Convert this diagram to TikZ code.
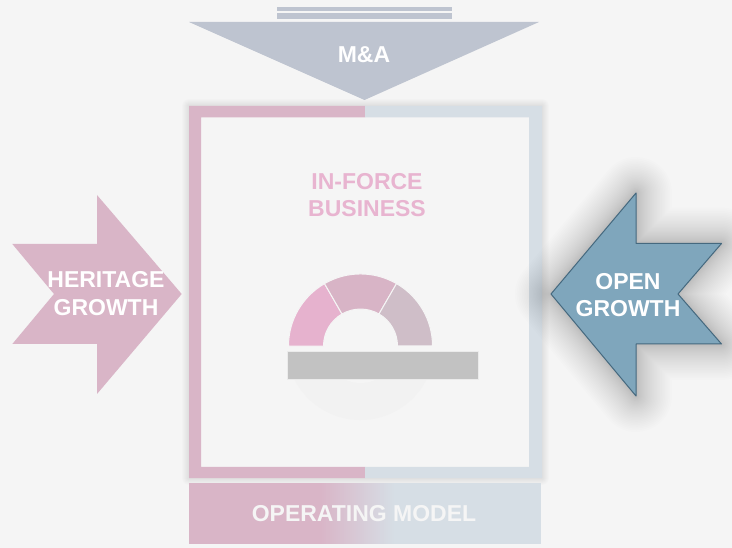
\documentclass[tikz,border=0pt]{standalone}
\usepackage{fontspec}
\setmainfont{Liberation Sans}
\definecolor{fondo}{HTML}{F5F5F5}
\definecolor{rosa}{HTML}{D9B5C7}
\definecolor{azul}{HTML}{D6DEE5}
\definecolor{gris}{HTML}{BEC4D0}
\definecolor{abierto}{HTML}{7FA6BC}
\definecolor{borde}{HTML}{45697F}
\definecolor{rosafuerte}{HTML}{E6B2CE}
\definecolor{rosamedio}{HTML}{D8B4C6}
\definecolor{rosapalido}{HTML}{CFBEC8}
\definecolor{rosatexto}{HTML}{E8B4D0}
\definecolor{base}{HTML}{C2C2C2}
\definecolor{disco}{HTML}{F2F2F2}
\begin{document}
\begin{tikzpicture}[x=1pt,y=-1pt,
		label text/.style={font=\fontsize{23}{27.5}\selectfont\bfseries,text=white,inner sep=0pt},
		soft text/.style={label text,text=#1},
		sector/.style={draw=fondo,line width=1pt},
		halo/.style={draw=black,opacity=#1,line join=round},
		halo/.default=0.011]
	\useasboundingbox (0,0) rectangle (732,548);
	\fill[fondo] (0,0) rectangle (732,548);
	% Barras y triangulo superior
	\fill[gris] (277,7.5) rectangle (452,10.7);
	\fill[gris] (277,13.3) rectangle (452,19);
	\fill[gris] (189,22) -- (539,22) -- (364.5,100) -- cycle;
	% Marco central
	\foreach \w in {2,4,6,8,10,12,14}
	  \draw[halo,line width=\w pt] (189,106) rectangle (542,478);
	\fill[fondo] (201,117.5) rectangle (529,467);
	\fill[rosa] (365,106) -- (189,106) -- (189,478) -- (365,478) -- (365,467)
	  -- (201,467) -- (201,117.5) -- (365,117.5) -- cycle;
	\fill[azul] (365,106) -- (542,106) -- (542,478) -- (365,478) -- (365,467)
	  -- (529,467) -- (529,117.5) -- (365,117.5) -- cycle;
	% Semicirculo
	\fill[disco] (287.84,360) arc[start angle=190.9,end angle=349.1,radius=74pt] -- cycle;
	\fill[fondo] (332.3,370) arc[start angle=220.4,end angle=319.6,radius=37pt] -- cycle;
	\filldraw[sector,fill=rosafuerte]
	  (288.5,346) arc[start angle=180,end angle=120,radius=72pt]
	  -- (342,314) arc[start angle=120,end angle=180,radius=37pt] -- cycle;
	\filldraw[sector,fill=rosamedio]
	  (324.5,283.6) arc[start angle=120,end angle=60,radius=72pt]
	  -- (379,314) arc[start angle=60,end angle=120,radius=37pt] -- cycle;
	\filldraw[sector,fill=rosapalido]
	  (396.5,283.6) arc[start angle=60,end angle=0,radius=72pt]
	  -- (397.5,346) arc[start angle=0,end angle=60,radius=37pt] -- cycle;
	\filldraw[fill=base,draw=black!4!fondo,line width=0.6pt]
	  (287,351) rectangle (478.5,379);
	% Flechas
	\fill[rosa] (97,195) -- (181.7,294) -- (97,394) -- (97,344) -- (12.3,344)
	  -- (54,294) -- (12.3,244) -- (97,244) -- cycle;
	\foreach \i in {1,...,30}{
	  \pgfmathsetmacro{\w}{72*(\i/30)^1.5}
	  \draw[halo=0.0075,line width=\w pt] (636,193) -- (551,294) -- (636,396) -- (636,344)
	    -- (721.5,344) -- (678,294) -- (721.5,243.5) -- (636,243.5) -- cycle;
	}
	\filldraw[fill=abierto,draw=borde,line width=1pt,line join=round]
	  (636,193) -- (551,294) -- (636,396) -- (636,344) -- (721.5,344)
	  -- (678,294) -- (721.5,243.5) -- (636,243.5) -- cycle;
	% Banda inferior
	\fill[rosa] (189,483) rectangle (322,544);
	\fill[azul] (396,483) rectangle (541,544);
	\foreach \i in {0,...,37}{
	  \pgfmathtruncatemacro{\p}{100-\i*100/37}
	  \fill[rosa!\p!azul] (320+2*\i,483) rectangle (322.5+2*\i,544);
	}
	% Textos
	\node[label text] (fusiones) at (364,55) {M\&A};
	\node[soft text=rosatexto] (negocio) at (367,197.5) {%
	  \begin{tabular}{@{}c@{}}
	      IN-FORCE\\
	      BUSINESS
	   \end{tabular}
	};
	\node[label text] (herencia) at (106,296) {%
	  \begin{tabular}{@{}c@{}}
	      HERITAGE\\
	      GROWTH
	   \end{tabular}
	};
	\node[label text] (abierta) at (628,297.5) {%
	  \begin{tabular}{@{}c@{}}
	      OPEN\\
	      GROWTH
	   \end{tabular}
	};
	\node[soft text=fondo] (modelo) at (364,514) {OPERATING MODEL};
\end{tikzpicture}
\end{document}
